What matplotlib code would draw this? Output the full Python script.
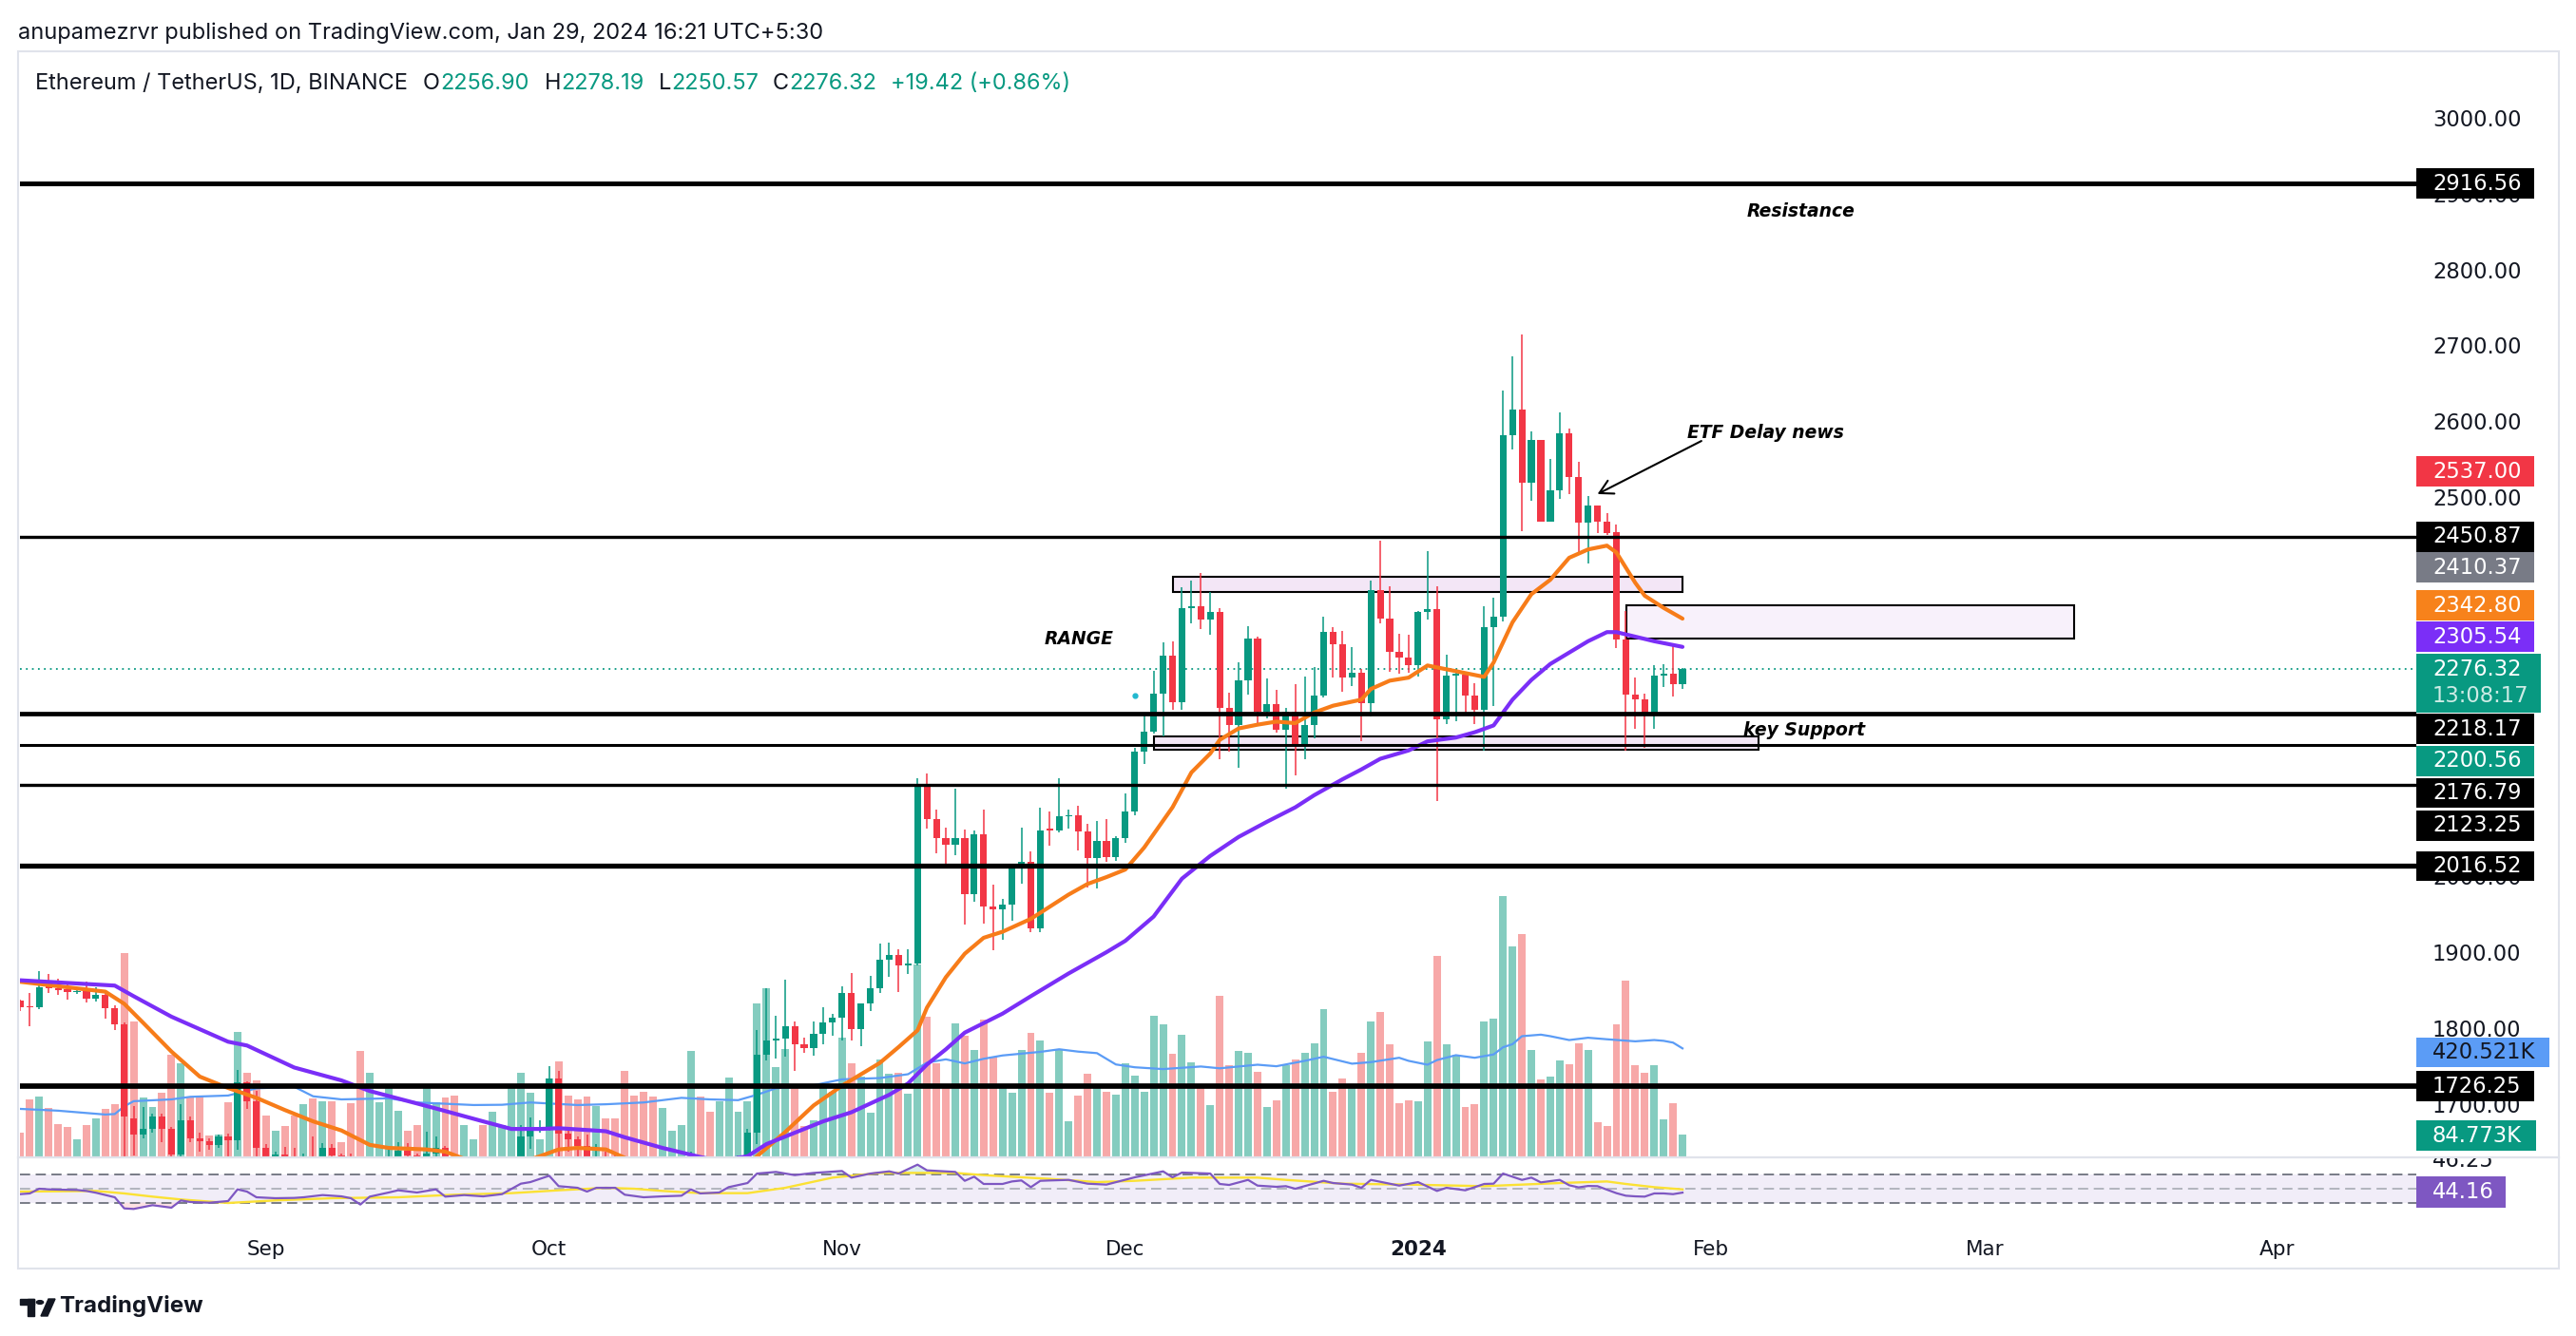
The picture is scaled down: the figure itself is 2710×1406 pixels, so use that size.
import matplotlib
matplotlib.use("Agg")
import matplotlib.pyplot as plt
from matplotlib.patches import Rectangle, Polygon, Circle
from matplotlib.lines import Line2D
import numpy as np
import pandas as pd

plt.rcParams["font.family"] = ["DejaVu Sans"]

# ETH/USDT daily candles, 2023-08-06 .. 2024-01-29
start = pd.Timestamp("2023-08-06")
dates = pd.date_range(start, "2024-01-29", freq="D")

opens = [
    1839, 1831, 1830, 1859, 1856, 1854, 1850, 1852, 1842, 1847, 1829, 1808, 1684, 1663, 1670, 1686, 1670, 1636, 1681, 1657, 1654, 1649, 1660, 1655, 1732, 1707,
    1645, 1628, 1636, 1634, 1629, 1631, 1630, 1645, 1635, 1634, 1617, 1550, 1593, 1606, 1625, 1641, 1635, 1622, 1638, 1645, 1622, 1586, 1592, 1594, 1580, 1588, 1594, 1598, 1660, 1669,
    1672, 1736, 1664, 1656, 1647, 1611, 1633, 1632, 1631, 1580, 1567, 1565, 1539, 1553, 1555, 1557, 1600, 1566, 1564, 1566, 1604, 1628, 1665, 1768, 1787, 1789, 1805, 1781, 1777, 1796, 1810,
    1817, 1849, 1802, 1835, 1856, 1893, 1899, 1885, 1888, 2123, 2078, 2054, 2045, 2054, 1980, 2059, 1963, 1960, 1966, 2013, 2022, 1934, 2066, 2064, 2082, 2084, 2062, 2027, 2050, 2029,
    2053, 2088, 2167, 2194, 2244, 2294, 2233, 2357, 2359, 2341, 2352, 2225, 2203, 2261, 2317, 2220, 2230, 2196, 2220, 2178, 2203, 2241, 2325, 2309, 2265, 2272, 2231, 2380, 2343, 2299, 2292,
    2282, 2352, 2355, 2210, 2268, 2269, 2241, 2222, 2332, 2345, 2585, 2619, 2522, 2578, 2471, 2512, 2587, 2530, 2469, 2492, 2471, 2457, 2315, 2243, 2236, 2219, 2268, 2270, 2256.90,
]
highs = [
    1841, 1849, 1878, 1874, 1868, 1860, 1856, 1864, 1857, 1849, 1833, 1811, 1700, 1699, 1690, 1690, 1673, 1703, 1686, 1665, 1657, 1662, 1664, 1748, 1733, 1720,
    1650, 1640, 1646, 1645, 1637, 1660, 1651, 1650, 1638, 1638, 1619, 1626, 1613, 1647, 1653, 1651, 1638, 1666, 1660, 1647, 1627, 1600, 1600, 1601, 1596, 1598, 1627, 1675, 1685, 1681,
    1753, 1747, 1673, 1660, 1663, 1650, 1640, 1640, 1634, 1600, 1573, 1568, 1567, 1566, 1572, 1640, 1605, 1585, 1570, 1620, 1635, 1670, 1801, 1856, 1819, 1867, 1812, 1790, 1812, 1831, 1822,
    1858, 1876, 1835, 1872, 1915, 1916, 1907, 1907, 2133, 2139, 2091, 2067, 2119, 2065, 2063, 2091, 1992, 1973, 2016, 2067, 2036, 2093, 2089, 2133, 2091, 2096, 2072, 2076, 2078, 2056,
    2112, 2172, 2217, 2274, 2311, 2313, 2384, 2393, 2403, 2378, 2356, 2245, 2285, 2333, 2319, 2264, 2249, 2225, 2256, 2266, 2279, 2345, 2332, 2327, 2305, 2276, 2393, 2445, 2385, 2323, 2321,
    2353, 2432, 2385, 2295, 2276, 2270, 2258, 2359, 2371, 2643, 2689, 2717, 2589, 2578, 2553, 2615, 2593, 2549, 2505, 2492, 2482, 2467, 2353, 2265, 2244, 2282, 2283, 2309, 2278.19,
]
lows = [
    1826, 1805, 1828, 1849, 1847, 1841, 1848, 1837, 1838, 1816, 1801, 1550, 1635, 1657, 1665, 1653, 1550, 1625, 1652, 1640, 1643, 1645, 1620, 1643, 1696, 1630,
    1605, 1625, 1626, 1618, 1612, 1615, 1622, 1620, 1630, 1601, 1531, 1542, 1580, 1602, 1610, 1628, 1612, 1610, 1630, 1614, 1575, 1580, 1587, 1575, 1567, 1576, 1590, 1590, 1644, 1665,
    1667, 1633, 1640, 1625, 1605, 1605, 1628, 1620, 1552, 1557, 1550, 1521, 1535, 1548, 1551, 1555, 1550, 1560, 1538, 1562, 1600, 1620, 1650, 1760, 1763, 1765, 1747, 1770, 1766, 1782, 1793,
    1787, 1787, 1779, 1826, 1849, 1871, 1851, 1874, 1885, 2066, 2033, 2014, 2031, 1939, 1969, 1941, 1906, 1919, 1945, 1993, 1930, 1930, 2043, 2061, 2066, 2037, 1988, 1987, 2022, 2023,
    2047, 2083, 2151, 2191, 2187, 2223, 2223, 2337, 2329, 2321, 2158, 2168, 2146, 2242, 2202, 2211, 2193, 2119, 2136, 2158, 2185, 2239, 2265, 2247, 2254, 2181, 2214, 2336, 2273, 2270, 2272,
    2267, 2342, 2102, 2204, 2208, 2218, 2204, 2169, 2228, 2339, 2566, 2458, 2498, 2470, 2471, 2501, 2507, 2430, 2416, 2455, 2453, 2304, 2169, 2198, 2173, 2197, 2253, 2240, 2250.57,
]
closes = [
    1830, 1830, 1857, 1856, 1853, 1850, 1852, 1842, 1847, 1829, 1808, 1686, 1663, 1670, 1686, 1670, 1636, 1681, 1657, 1654, 1649, 1660, 1655, 1732, 1707, 1645,
    1628, 1636, 1634, 1629, 1631, 1630, 1645, 1635, 1634, 1617, 1550, 1593, 1606, 1625, 1641, 1635, 1622, 1638, 1645, 1622, 1586, 1592, 1594, 1580, 1588, 1594, 1598, 1660, 1669, 1672,
    1736, 1664, 1656, 1647, 1611, 1633, 1632, 1631, 1580, 1567, 1565, 1539, 1553, 1555, 1557, 1600, 1566, 1564, 1566, 1604, 1628, 1665, 1768, 1787, 1789, 1805, 1781, 1777, 1796, 1810, 1817,
    1849, 1802, 1835, 1856, 1893, 1899, 1885, 1888, 2123, 2078, 2054, 2045, 2054, 1980, 2059, 1963, 1960, 1966, 2013, 2022, 1934, 2064, 2064, 2082, 2084, 2062, 2027, 2050, 2029, 2053,
    2088, 2167, 2194, 2244, 2294, 2233, 2357, 2359, 2341, 2352, 2225, 2203, 2261, 2317, 2220, 2230, 2196, 2220, 2178, 2203, 2241, 2325, 2309, 2265, 2272, 2231, 2380, 2343, 2299, 2292, 2282,
    2352, 2355, 2210, 2268, 2269, 2241, 2222, 2332, 2345, 2585, 2619, 2522, 2578, 2471, 2512, 2587, 2530, 2469, 2492, 2471, 2455, 2315, 2243, 2236, 2219, 2268, 2270, 2257, 2276.32,
]
# volume in thousands of ETH
volume = [
    92, 222, 232, 187, 126, 113, 65, 121, 148, 185, 203, 792, 524, 228, 191, 247, 395, 364, 228, 232, 80, 86, 210, 483, 324, 296,
    160, 101, 117, 160, 203, 224, 216, 216, 55, 207, 409, 324, 210, 271, 179, 99, 121, 271, 210, 231, 237, 123, 65, 123, 173, 123, 271, 324, 247, 68,
    302, 370, 237, 222, 232, 197, 148, 148, 333, 237, 253, 234, 187, 99, 121, 409, 232, 173, 216, 308, 173, 216, 594, 656, 347, 419, 271, 120, 141, 271, 252,
    462, 361, 310, 170, 376, 320, 324, 243, 746, 542, 361, 271, 517, 471, 413, 532, 388, 271, 246, 413, 480, 453, 246, 416, 136, 236, 320, 268, 250, 240,
    363, 314, 252, 548, 515, 398, 472, 368, 280, 198, 624, 354, 409, 402, 328, 194, 220, 354, 376, 405, 442, 575, 250, 302, 277, 402, 527, 564, 438, 206, 217,
    213, 446, 779, 438, 397, 191, 202, 527, 538, 1012, 816, 864, 413, 298, 309, 372, 357, 442, 413, 135, 120, 513, 683, 354, 324, 354, 143, 206, 84.773,
]

# moving averages (day number counted from 2023-08-06)
ema_fast_day = [0, 9, 11, 13, 16, 19, 22, 25, 28, 31, 34, 37, 39, 43, 45, 48, 52, 55, 57, 59, 62, 64, 67, 71, 75, 78, 81, 84, 87, 91,
                93, 95, 96, 98, 100, 102, 104, 107, 109, 111, 113, 115, 117, 119, 122, 124, 126, 127, 129, 131, 133, 135, 137, 139, 142, 143,
                145, 147, 149, 151, 153, 155, 156, 158, 160, 162, 164, 166, 168, 169, 171, 172, 174, 176]
ema_fast_val = [1864, 1851, 1835, 1810, 1772, 1739, 1724, 1711, 1695, 1680, 1668, 1649, 1645, 1643, 1640, 1626, 1622, 1634, 1643, 1645,
                1643, 1632, 1610, 1598, 1600, 1634, 1666, 1701, 1727, 1757, 1778, 1800, 1830, 1870, 1901, 1922, 1930, 1947, 1963, 1979,
                1993, 2002, 2012, 2041, 2094, 2140, 2165, 2183, 2198, 2203, 2207, 2205, 2219, 2228, 2236, 2250, 2261, 2265, 2281, 2276,
                2271, 2266, 2285, 2338, 2375, 2394, 2423, 2434, 2439, 2430, 2390, 2373, 2357, 2342.80]
ema_slow_day = [0, 10, 12, 16, 22, 24, 29, 34, 37, 44, 49, 52, 55, 57, 62, 64, 68, 72, 74, 77, 79, 81, 85, 88, 92, 94, 96, 98, 100, 104,
                107, 111, 115, 117, 120, 123, 126, 129, 132, 135, 137, 140, 142, 144, 147, 149, 152, 154, 156, 158, 160, 162, 164, 166,
                168, 169, 171, 173, 176]
ema_slow_val = [1866, 1859, 1845, 1818, 1785, 1780, 1751, 1734, 1720, 1697, 1680, 1670, 1670, 1671, 1667, 1659, 1645, 1633, 1628, 1634,
                1650, 1660, 1680, 1692, 1715, 1730, 1755, 1775, 1797, 1822, 1845, 1875, 1903, 1918, 1950, 2000, 2030, 2055, 2075, 2094,
                2110, 2131, 2144, 2158, 2169, 2181, 2186, 2193, 2202, 2236, 2262, 2283, 2298, 2313, 2325, 2325, 2319, 2313, 2305.54]
vol_ma_day = [0, 4, 9, 10, 11, 12, 16, 18, 22, 25, 29, 31, 34, 39, 42, 48, 51, 54, 59, 62, 66, 70, 73, 76, 78, 80, 84, 87, 91, 94,
              96, 98, 100, 102, 104, 106, 108, 110, 112, 114, 116, 118, 121, 125, 127, 131, 133, 136, 138, 141, 143, 146, 147, 149,
              150, 152, 154, 156, 157, 158, 159, 161, 162, 164, 166, 168, 171, 173, 174, 175, 176]
vol_ma_val = [185, 178, 163, 165, 195, 215, 222, 232, 237, 265, 271, 234, 222, 226, 210, 200, 201, 210, 200, 203, 210, 228, 222, 219,
              240, 265, 277, 300, 305, 320, 365, 378, 362, 380, 393, 400, 407, 417, 408, 402, 358, 347, 340, 350, 343, 357, 351, 372,
              388, 361, 367, 384, 372, 357, 375, 394, 384, 397, 425, 437, 468, 474, 468, 453, 462, 456, 448, 453, 450, 443, 420.521]

rsi_day = [0, 1, 2, 3, 4, 6, 7, 8, 10, 11, 12, 14, 16, 17, 18, 20, 22, 23, 24, 25, 27, 29, 30, 32, 34, 35, 36, 37, 39, 40,
           42, 44, 45, 47, 49, 51, 53, 54, 56, 57, 59, 60, 61, 63, 64, 66, 68, 70, 71, 72, 74, 75, 77, 78, 80, 82, 84, 87, 88, 90,
           92, 93, 95, 96, 99, 100, 101, 102, 104, 105, 106, 107, 108, 109, 111, 113, 115, 118, 121, 122, 123, 126, 127, 128, 130,
           131, 133, 134, 135, 138, 139, 141, 142, 143, 146, 148, 150, 151, 153, 155, 156, 157, 159, 160, 161, 163, 164, 165, 166,
           167, 169, 170, 171, 172, 173, 174, 175, 176]
rsi_val = [42, 43, 49.6, 48.7, 48.3, 47.8, 46.5, 44, 37.6, 22, 21.2, 26.5, 23, 33.2, 31, 30, 32.3, 48.7, 45.6, 37.6,
           36.3, 36.7, 37.6, 40.7, 38.9, 36.3, 27.4, 38.5, 44.3, 47.4, 44.3, 48.7, 38.5, 40.7, 38.9, 42, 56.7, 58.9, 67.8, 53.2,
           50.9, 45.6, 50.9, 50.9, 41.2, 37.6, 38.9, 39.8, 48.7, 43, 44.3, 51.8, 57.6, 70.9, 73.2, 68.7, 71.8, 74.5, 65.2, 70.9,
           74, 70.9, 83.4, 75.4, 73.2, 60.7, 66.5, 56.3, 56.3, 59.8, 61.2, 51.8, 60.7, 61.2, 62, 56.7, 55.4, 65.6, 74, 65.6,
           72.3, 70.9, 56.3, 54.9, 62, 54, 52.3, 53.2, 49.6, 60.7, 57.6, 55.4, 50.9, 62, 54, 58.9, 46.5, 50.9, 47.4, 56.3,
           56.7, 70.9, 62, 65.2, 58.5, 62, 54.5, 51.5, 53.5, 53.2, 43.4, 39.8, 38.9, 38.5, 43, 43, 42, 44.16]
rsi_ma_day = [0, 8, 11, 14, 17, 22, 27, 33, 40, 46, 52, 57, 62, 65, 68, 72, 77, 81, 86, 91, 96, 99, 102, 109, 114, 118, 124, 131,
              134, 140, 147, 155, 163, 168, 170, 173, 176]
rsi_ma_val = [45.6, 46.5, 43, 38.5, 34.5, 29.6, 33.2, 36.3, 37.6, 41.2, 43.4, 47.4, 50.9, 49.6, 46.5, 43.4, 43.4, 50.9, 65.2, 71.8,
              71.8, 71.8, 68.7, 63.4, 58.9, 60.7, 65.2, 65.2, 62, 56.7, 55.4, 53.2, 57.6, 59.8, 56.3, 51.8, 48.7]

# drawn levels and zones
levels = [2916.56, 2450.87, 2218.17, 2176.79, 2123.25, 2016.52, 1726.25]
level_widths = [3.6, 2.4, 3.4, 2.2, 2.4, 3.8, 4.1]
zones = [  # (start day, end day, low, high, fill)
    (122.05, 176.0, 2378, 2398, "#f3e6f6"),
    (170.1, 217.5, 2316, 2360, "#f8f1fb"),
    (120.0, 184.1, 2170, 2187, "#f3e6f6"),
]
last_price = 2276.32

month_starts = ["2023-09-01", "2023-10-01", "2023-11-01", "2023-12-01", "2024-01-01", "2024-02-01", "2024-03-01", "2024-04-01"]
month_labels = ["Sep", "Oct", "Nov", "Dec", "2024", "Feb", "Mar", "Apr"]
# price scale ticks that are not fully hidden behind the tags
price_ticks = [1700, 1800, 1900, 2000, 2500, 2600, 2700, 2800, 2900, 3000]

GREEN, RED = "#089981", "#f23645"
VGREEN, VRED = "#84ccbf", "#f7a8a8"
DARK = "#131722"

W, H = 2710, 1406
fig = plt.figure(figsize=(W / 100, H / 100), dpi=100)
fig.patch.set_facecolor("white")


def fx(px):
    return px / W


def fy(py):
    return 1 - py / H


x = np.arange(len(dates))
o, h, l, c = (np.array(v, dtype=float) for v in (opens, highs, lows, closes))
up = c >= o
candle_col = np.where(up, GREEN, RED)
vol_col = np.where(up, VGREEN, VRED)

XMIN, XMAX = -0.04, 253.7
PMIN, PMAX = 1633.8, 3090.7

# ---- main pane (volume underneath, price on top) ----
rect_main = [fx(21), fy(1217), fx(2542) - fx(21), fy(54) - fy(1217)]
ax_vol = fig.add_axes(rect_main)
ax = fig.add_axes(rect_main)
for a in (ax_vol, ax):
    a.set_axis_off()
    a.set_xlim(XMIN, XMAX)
ax.set_ylim(PMIN, PMAX)
ax_vol.set_ylim(0, 4302)

ax_vol.bar(x, volume, width=0.8, color=vol_col, linewidth=0)
ax_vol.plot(vol_ma_day, vol_ma_val, color="#5b9cf6", lw=1.6)

for x0, x1, lo, hi, fc in zones:
    ax.add_patch(Rectangle((x0, lo), x1 - x0, hi - lo, facecolor=fc, edgecolor="black", lw=1.5, zorder=1))

ax.axhline(last_price, color=GREEN, lw=1.3, ls=(0, (1, 2.5)), zorder=1.5)

ax.vlines(x, l, h, colors=candle_col, lw=1.1, zorder=2)
body_low = np.minimum(o, c)
body_h = np.maximum(np.abs(c - o), 1.6)
ax.bar(x, body_h, bottom=body_low, width=0.72, color=candle_col, linewidth=0, zorder=2.1)

ax.plot(ema_fast_day, ema_fast_val, color="#f77c19", lw=3.0, zorder=3, solid_capstyle="round")
ax.plot(ema_slow_day, ema_slow_val, color="#7a2ef7", lw=3.0, zorder=3, solid_capstyle="round")

for lvl, lw in zip(levels, level_widths):
    ax.axhline(lvl, color="black", lw=lw, zorder=4)

ax.plot([118], [2241], "o", color="#22b8cf", ms=3.5, zorder=3)

note_kw = dict(fontsize=13.5, fontweight="bold", fontstyle="italic", color="black", va="center", ha="left", zorder=5)
ax.text(182.8, 2879, "Resistance", **note_kw)
ax.text(176.5, 2588, "ETF Delay news", **note_kw)
ax.text(108.4, 2316, "RANGE", **note_kw)
ax.text(182.4, 2196, "key Support", **note_kw)
ax.annotate("", xy=(167.0, 2507), xytext=(178.0, 2577),
            arrowprops=dict(arrowstyle="->,head_length=1.0,head_width=0.55", color="black", lw=1.5,
                            shrinkA=0, shrinkB=0), zorder=5)

# ---- price scale strip ----
ax_s = fig.add_axes([fx(2542), fy(1217), fx(2696) - fx(2542), fy(54) - fy(1217)])
ax_s.set_axis_off()
ax_s.set_xlim(0, 1)
ax_s.set_ylim(PMIN, PMAX)
lab_kw = dict(fontsize=16.3, va="center", ha="left", family="DejaVu Sans")
for p in price_ticks:
    ax_s.text(0.11, p, f"{p:.2f}", color=DARK, zorder=1, **lab_kw)

price_tags = [
    ("2916.56", 2916.56, "#000000", "white", 0.805),
    ("2537.00", 2537.00, RED, "white", 0.805),
    ("2450.87", 2450.87, "#000000", "white", 0.805),
    ("2410.37", 2410.37, "#787b86", "white", 0.805),
    ("2342.80", 2360.0, "#f7821b", "white", 0.805),
    ("2305.54", 2319.0, "#7b2ef7", "white", 0.805),
    ("2218.17", 2197.0, "#000000", "white", 0.805),
    ("2200.56", 2155.0, GREEN, "white", 0.805),
    ("2176.79", 2113.0, "#000000", "white", 0.805),
    ("2123.25", 2070.0, "#000000", "white", 0.805),
    ("2016.52", 2016.52, "#000000", "white", 0.805),
    ("420.521K", 1771.0, "#5b9cf6", DARK, 0.91),
    ("1726.25", 1726.25, "#000000", "white", 0.805),
    ("84.773K", 1661.0, GREEN, "white", 0.815),
]
for txt, yc, fc, tc, wf in price_tags:
    ax_s.add_patch(Rectangle((0, yc - 20), wf, 40, facecolor=fc, edgecolor="none", zorder=3))
    ax_s.text(0.11, yc, txt, color=tc, zorder=4, **lab_kw)
ax_s.add_patch(Rectangle((0, 2219), 0.85, 77, facecolor=GREEN, edgecolor="none", zorder=3))
ax_s.text(0.11, 2276, f"{last_price:.2f}", color="white", zorder=4, **lab_kw)
ax_s.text(0.11, 2241, "13:08:17", color="#cdebe5", zorder=4, **lab_kw)

# ---- RSI pane ----
RMIN, RMAX = 1.6, 92.3
rect_rsi = [fx(21), fy(1287), fx(2542) - fx(21), fy(1219) - fy(1287)]
ax_r = fig.add_axes(rect_rsi)
ax_r.set_xlim(XMIN, XMAX)
ax_r.set_ylim(RMIN, RMAX)
for s in ax_r.spines.values():
    s.set_visible(False)
ax_r.axhspan(30, 70, color="#7e57c2", alpha=0.1, lw=0)
ax_r.axhline(70, color="#787b86", lw=1.4, ls=(0, (5.5, 3)))
ax_r.axhline(50, color="#b2b5be", lw=1.4, ls=(0, (5.5, 3)))
ax_r.axhline(30, color="#787b86", lw=1.4, ls=(0, (5.5, 3)))
rd, rv = np.array(rsi_day, dtype=float), np.array(rsi_val)
ax_r.fill_between(rd, rv, 70, where=rv > 70, interpolate=True, color=GREEN, alpha=0.15, lw=0)
ax_r.fill_between(rd, rv, 30, where=rv < 30, interpolate=True, color=RED, alpha=0.15, lw=0)
ax_r.plot(rsi_ma_day, rsi_ma_val, color="#fbe134", lw=1.7)
ax_r.plot(rsi_day, rsi_val, color="#7e57c2", lw=1.6)
ax_r.set_yticks([])
month_days = [(pd.Timestamp(d) - start).days for d in month_starts]
ax_r.set_xticks(month_days)
ax_r.set_xticklabels(month_labels)
ax_r.tick_params(axis="x", length=0, pad=13, labelsize=15.5, labelcolor=DARK)
ax_r.get_xticklabels()[4].set_fontweight("bold")

ax_rs = fig.add_axes([fx(2542), fy(1287), fx(2696) - fx(2542), fy(1219) - fy(1287)])
ax_rs.set_axis_off()
ax_rs.set_xlim(0, 1)
ax_rs.set_ylim(RMIN, RMAX)
ax_rs.text(0.11, 88.3, "46.25", color=DARK, clip_on=True, **lab_kw)
ax_rs.add_patch(Rectangle((0, 45.5 - 22), 0.61, 44, facecolor="#7e57c2", edgecolor="none"))
ax_rs.text(0.11, 45.5, f"{rsi_val[-1]:.2f}", color="white", **lab_kw)

# ---- frame, separator ----
fig.add_artist(Rectangle((fx(19), fy(1335)), fx(2692) - fx(19), fy(54) - fy(1335), transform=fig.transFigure,
                         fill=False, edgecolor="#e0e3eb", lw=1.5))
fig.add_artist(Line2D([fx(19), fx(2692)], [fy(1218), fy(1218)], color="#e0e3eb", lw=1.6))

# ---- header texts ----
renderer = fig.canvas.get_renderer()
UI_FONT = ["Inter", "DejaVu Sans"]


def fit_text(px, py, s, width, va="baseline", **kw):
    t = fig.text(fx(px), fy(py), s, va=va, ha="left", **kw)
    bb = t.get_window_extent(renderer)
    t.set_fontsize(t.get_fontsize() * width / bb.width)
    return t


fit_text(19, 40.7, "anupamezrvr published on TradingView.com, Jan 29, 2024 16:21 UTC+5:30", 849,
         fontsize=16, family=UI_FONT, color=DARK)
sym = fit_text(37, 94.3, "Ethereum / TetherUS, 1D, BINANCE", 393, fontsize=16, family=UI_FONT, color=DARK)
fs = sym.get_fontsize()
ohlc = [("O", "2256.90", 445), ("H", "2278.19", 573), ("L", "2250.57", 693), ("C", "2276.32", 813)]
for letter, val, px in ohlc:
    t = fig.text(fx(px), fy(94.3), letter, va="baseline", ha="left", fontsize=fs, family=UI_FONT, color=DARK)
    bb = t.get_window_extent(renderer)
    fig.text(bb.x1 / W, fy(94.3), val, va="baseline", ha="left", fontsize=fs, family=UI_FONT, color=GREEN)
fig.text(fx(937), fy(94.3), "+19.42 (+0.86%)", va="baseline", ha="left", fontsize=fs, family=UI_FONT, color=GREEN)

# ---- TradingView logo ----
fit_text(62, 1375, "TradingView", 152, va="center", fontsize=16, fontweight="bold", family=UI_FONT, color=DARK)
tf = fig.transFigure
fig.add_artist(Rectangle((fx(21), fy(1373)), fx(36) - fx(21), fy(1367) - fy(1373), transform=tf, color=DARK))
fig.add_artist(Rectangle((fx(29), fy(1385)), fx(36) - fx(29), fy(1367) - fy(1385), transform=tf, color=DARK))
fig.add_artist(Circle((fx(42), fy(1370.5)), 3.6 / W, transform=tf, color=DARK))
fig.add_artist(Polygon([(fx(43), fy(1385)), (fx(51), fy(1367)), (fx(58), fy(1367)), (fx(50), fy(1385))],
                       closed=True, transform=tf, color=DARK))

fig.savefig("out.png", dpi=100, facecolor="white")
